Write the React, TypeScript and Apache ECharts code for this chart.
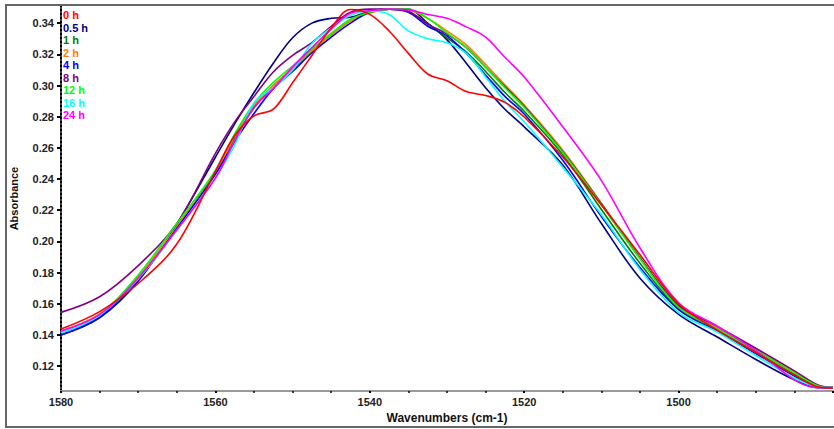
import React, { useEffect, useRef } from "react";
import * as echarts from "echarts";

const wavenumbers = [1580, 1575, 1570, 1565, 1560, 1557.5, 1555, 1552.5, 1550, 1547.5, 1545, 1542.5, 1540, 1537.5, 1535, 1532.5, 1530, 1527.5, 1525, 1522.5, 1520, 1515, 1510, 1505, 1500, 1495, 1490, 1485, 1482, 1480];

const s0h = [0.1438, 0.155, 0.173, 0.1983, 0.245, 0.2679, 0.2805, 0.2848, 0.3018, 0.3193, 0.3369, 0.3488, 0.3456, 0.335, 0.3206, 0.3074, 0.303, 0.2961, 0.2936, 0.2892, 0.2798, 0.2541, 0.2234, 0.1914, 0.16, 0.1431, 0.1287, 0.1143, 0.1068, 0.106];
const s05h = [0.14, 0.151, 0.1745, 0.211, 0.254, 0.2754, 0.2955, 0.3143, 0.3306, 0.34, 0.3431, 0.3438, 0.3475, 0.349, 0.349, 0.34, 0.3293, 0.3143, 0.2986, 0.2848, 0.2735, 0.249, 0.2115, 0.1764, 0.1532, 0.1387, 0.1243, 0.1112, 0.1062, 0.1062];
const s1h = [0.1415, 0.1525, 0.1765, 0.2095, 0.244, 0.2665, 0.2855, 0.3, 0.3105, 0.3225, 0.3325, 0.3415, 0.347, 0.349, 0.3475, 0.3395, 0.3305, 0.3215, 0.309, 0.2955, 0.2835, 0.2555, 0.2205, 0.186, 0.157, 0.1435, 0.1295, 0.115, 0.1075, 0.1062];
const s2h = [0.1425, 0.1535, 0.1775, 0.2095, 0.2435, 0.2675, 0.287, 0.3, 0.311, 0.3225, 0.3325, 0.3415, 0.3465, 0.349, 0.3485, 0.343, 0.335, 0.326, 0.3135, 0.3005, 0.2875, 0.2585, 0.2245, 0.189, 0.158, 0.1445, 0.1305, 0.116, 0.108, 0.1062];
const s4h = [0.14, 0.1515, 0.1755, 0.2083, 0.243, 0.264, 0.282, 0.298, 0.309, 0.321, 0.331, 0.34, 0.347, 0.349, 0.347, 0.338, 0.3318, 0.3206, 0.3068, 0.293, 0.2817, 0.252, 0.2159, 0.1833, 0.1563, 0.1425, 0.1281, 0.1137, 0.1068, 0.1062];
const s8h = [0.1545, 0.1645, 0.1845, 0.2115, 0.2565, 0.2767, 0.293, 0.3087, 0.3193, 0.3275, 0.338, 0.347, 0.349, 0.349, 0.3475, 0.3394, 0.333, 0.3243, 0.3118, 0.2993, 0.2867, 0.2575, 0.224, 0.1895, 0.159, 0.1455, 0.1315, 0.117, 0.108, 0.1062];
const s12h = [0.142, 0.153, 0.1785, 0.2115, 0.2455, 0.269, 0.2885, 0.302, 0.3125, 0.3235, 0.3335, 0.3425, 0.347, 0.349, 0.349, 0.3431, 0.3337, 0.3243, 0.3118, 0.2986, 0.286, 0.257, 0.2234, 0.1889, 0.1576, 0.1438, 0.13, 0.1155, 0.1075, 0.1062];
const s16h = [0.1415, 0.1525, 0.176, 0.207, 0.241, 0.262, 0.289, 0.2986, 0.31, 0.327, 0.3369, 0.345, 0.348, 0.3456, 0.335, 0.33, 0.3275, 0.3206, 0.3055, 0.2898, 0.2767, 0.2475, 0.2171, 0.182, 0.1544, 0.1419, 0.1268, 0.1124, 0.1068, 0.1062];
const s24h = [0.1425, 0.153, 0.1765, 0.2075, 0.2405, 0.2645, 0.286, 0.298, 0.3118, 0.3243, 0.3362, 0.3463, 0.348, 0.349, 0.3485, 0.3456, 0.3431, 0.3376, 0.331, 0.3181, 0.3055, 0.2735, 0.239, 0.1958, 0.1607, 0.1456, 0.13, 0.1112, 0.1062, 0.1062];

const seriesNames = ["0 h", "0.5 h", "1 h", "2 h", "4 h", "8 h", "12 h", "16 h", "24 h"];
const seriesValues = [s0h, s05h, s1h, s2h, s4h, s8h, s12h, s16h, s24h];
const seriesColors = ["#ff0000", "#000080", "#008000", "#ff8000", "#0000ff", "#800080", "#00ff00", "#00ffff", "#ff00ff"];

const FONT = "Arial, 'Liberation Sans', Helvetica, sans-serif";

export default function App() {
  const ref = useRef<HTMLDivElement>(null);
  useEffect(() => {
    document.body.style.margin = "0";
    const chart = echarts.init(ref.current!, null, { renderer: "svg" });
    const series = seriesNames.map((name, i) => ({
      name,
      type: "line",
      data: wavenumbers.map((w, j) => [w, seriesValues[i][j]]),
      smooth: 0.35,
      showSymbol: false,
      z: i === 0 ? 5 : 2,
      lineStyle: { color: seriesColors[i], width: 1.6 },
      itemStyle: { color: seriesColors[i] },
    }));
    chart.setOption({
      animation: false,
      backgroundColor: "#ffffff",
      grid: { left: 60, right: 1, top: 6, bottom: 31 },
      legend: {
        orient: "vertical",
        left: 52,
        top: 4,
        itemGap: 0,
        itemWidth: 0,
        itemHeight: 0,
        selectedMode: false,
        textStyle: { fontFamily: FONT, fontSize: 11, fontWeight: "bold", lineHeight: 12.5 },
        data: seriesNames.map((n, i) => ({ name: n, textStyle: { color: seriesColors[i] } })),
      },
      xAxis: {
        type: "value",
        inverse: true,
        min: 1480,
        max: 1580,
        interval: 20,
        name: "Wavenumbers (cm-1)",
        nameLocation: "middle",
        nameGap: 19,
        nameTextStyle: { fontFamily: FONT, fontSize: 12, fontWeight: "bold", color: "#111" },
        axisLine: { lineStyle: { color: "#9a9a9a", width: 2 } },
        axisTick: { length: 2, lineStyle: { color: "#000", width: 2 } },
        minorTick: { show: true, splitNumber: 4, length: 2, lineStyle: { color: "#000", width: 1.5 } },
        splitLine: { show: false },
        axisLabel: {
          showMinLabel: false,
          showMaxLabel: true,
          margin: 5,
          fontFamily: FONT,
          fontSize: 11,
          fontWeight: "bold",
          color: "#222",
          formatter: (v: number) => String(v),
        },
      },
      yAxis: {
        type: "value",
        min: 0.104,
        max: 0.351,
        splitNumber: 12,
        name: "Absorbance",
        nameLocation: "middle",
        nameGap: 42,
        nameTextStyle: { fontFamily: FONT, fontSize: 11, fontWeight: "bold", color: "#111" },
        axisLine: { show: true, lineStyle: { color: "#000", width: 2, type: [2, 2] } },
        axisTick: { length: 4, lineStyle: { color: "#000", width: 2 } },
        splitLine: { show: false },
        axisLabel: {
          showMinLabel: false,
          showMaxLabel: false,
          margin: 7,
          fontFamily: FONT,
          fontSize: 11,
          fontWeight: "bold",
          color: "#222",
          formatter: (v: number) => (Math.abs(v * 50 - Math.round(v * 50)) < 1e-6 ? v.toFixed(2) : ""),
        },
      },
      graphic: [
        {
          type: "rect",
          shape: { x: 6, y: 5, width: 834, height: 422 },
          style: { fill: "none", stroke: "#666", lineWidth: 2 },
          silent: true,
          z: 100,
        },
      ],
      series,
    });
    return () => chart.dispose();
  }, []);
  return <div ref={ref} style={{ width: 834, height: 429 }} />;
}
